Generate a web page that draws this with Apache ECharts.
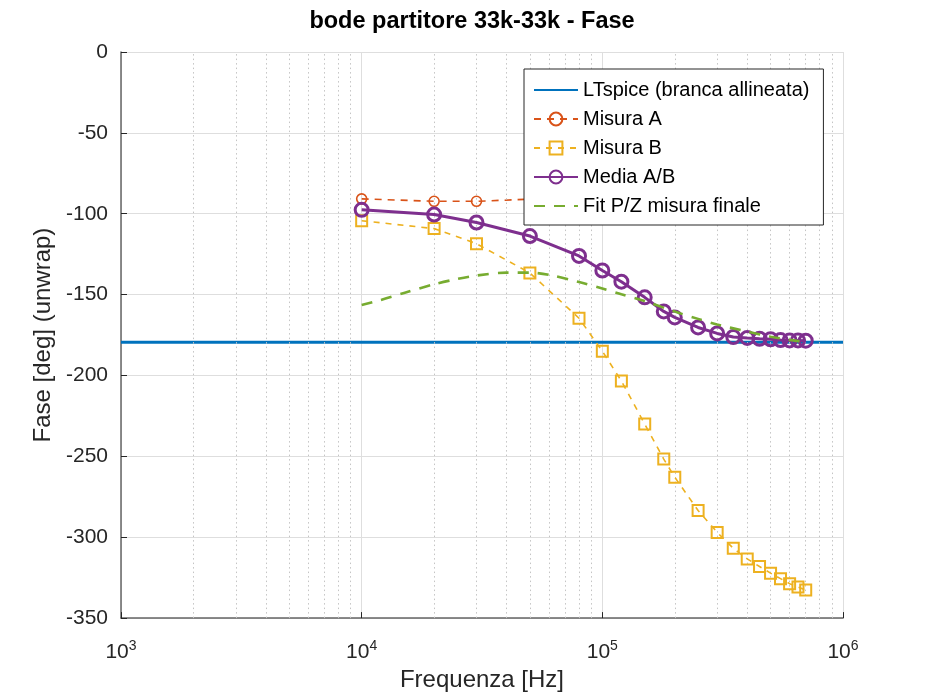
<!DOCTYPE html>
<html>
<head>
<meta charset="utf-8">
<title>bode partitore 33k-33k - Fase</title>
<script src="https://cdn.jsdelivr.net/npm/echarts@6/dist/echarts.min.js"></script>
<style>
  html, body { margin: 0; padding: 0; background: #fff; overflow: hidden; }
  #chart { width: 930px; height: 697px; }
</style>
</head>
<body>
<div id="chart"></div>
<script>
// frequenze di misura [Hz]
const freq = [1e4, 2e4, 3e4, 5e4, 8e4, 1e5, 1.2e5, 1.5e5, 1.8e5, 2e5,
  2.5e5, 3e5, 3.5e5, 4e5, 4.5e5, 5e5, 5.5e5, 6e5, 6.5e5, 7e5];

// fase [deg]
const misuraA = [-90.8, -92.3, -92.3, -91.0, -87.6, -85.2, -80.6, -73.4, -69.1, -65.3,
  -57.1, -51.0, -45.6, -40.2, -36.5, -33.0, -30.6, -27.9, -25.8, -24.4];
const misuraB = [-104.3, -109.2, -118.5, -136.6, -164.6, -185.0, -203.4, -230.0, -251.7, -262.9,
  -283.5, -297.0, -306.8, -313.4, -318.1, -322.2, -325.6, -328.7, -330.8, -332.6];
const mediaAB = [-97.6, -100.5, -105.4, -113.8, -126.1, -135.1, -142.0, -151.7, -160.4, -164.1,
  -170.3, -174.0, -176.2, -176.8, -177.3, -177.6, -178.1, -178.3, -178.3, -178.5];

// LTspice
const ltFreq = [1e3, 1e6];
const ltPhase = [-179.5, -179.5];

// fit poli/zeri
const fitFreq = [1e4, 1.2e4, 1.5e4, 2e4, 2.5e4, 3e4, 4e4, 5e4, 6e4, 8e4,
  1e5, 1.2e5, 1.5e5, 2e5, 2.5e5, 3e5, 4e5, 5e5, 6e5, 7e5];
const fitPhase = [-156.4, -153.3, -149.0, -143.6, -140.3, -138.2, -136.4, -136.4, -137.8, -142.2,
  -146.2, -149.8, -154.0, -160.5, -165.0, -168.5, -172.8, -176.0, -178.0, -179.3];

// griglia minore (log)
const minorTicks = [];
[1e3, 1e4, 1e5].forEach((d) => {
  [2, 3, 4, 5, 6, 7, 8, 9].forEach((m) => minorTicks.push(m * d));
});

const FONT = '"Liberation Sans", Arial, Helvetica, sans-serif';
const TXT = '#262626';

const pairs = (xs, ys) => xs.map((x, i) => [x, ys[i]]);
const noMarker = { color: 'rgba(0,0,0,0)', borderWidth: 0 };

const chart = echarts.init(document.getElementById('chart'));

chart.setOption({
  animation: false,
  backgroundColor: '#fff',
  title: {
    text: 'bode partitore 33k-33k - Fase',
    left: 467,
    textAlign: 'center',
    top: 5,
    textStyle: { fontFamily: FONT, fontSize: 23.5, fontWeight: 'bold', color: '#000' },
  },
  grid: { left: 121, right: 87, top: 52, bottom: 76 },
  legend: {
    orient: 'vertical',
    left: 524,
    top: 69,
    z: 20,
    padding: [11, 14, 9, 9],
    itemWidth: 44,
    itemHeight: 16,
    itemGap: 9,
    backgroundColor: '#fff',
    borderColor: '#262626',
    borderWidth: 1,
    textStyle: { fontFamily: FONT, fontSize: 20, color: '#000', lineHeight: 16 },
    data: [
      { name: 'LTspice (branca allineata)', itemStyle: noMarker },
      'Misura A',
      'Misura B',
      'Media A/B',
      { name: 'Fit P/Z misura finale', itemStyle: noMarker },
    ],
  },
  xAxis: {
    type: 'log',
    logBase: 10,
    min: 1e3,
    max: 1e6,
    name: 'Frequenza [Hz]',
    nameLocation: 'middle',
    nameGap: 46,
    nameTextStyle: { fontFamily: FONT, fontSize: 24, color: TXT },
    axisLine: { onZero: false, lineStyle: { color: '#666', width: 1.5 } },
    axisTick: { inside: true, length: 6, lineStyle: { color: '#262626' } },
    splitLine: { show: true, lineStyle: { color: '#dedede', width: 1 } },
    axisLabel: {
      margin: 21,
      formatter: (v) => '{b|10}{s|' + Math.round(Math.log10(v)) + '}',
      rich: {
        b: { fontFamily: FONT, fontSize: 21, color: TXT },
        s: { fontFamily: FONT, fontSize: 14, color: TXT, padding: [0, 0, 13, 0] },
      },
    },
  },
  yAxis: {
    type: 'value',
    min: -350,
    max: 0,
    interval: 50,
    name: 'Fase [deg] (unwrap)',
    nameLocation: 'middle',
    nameGap: 66,
    nameTextStyle: { fontFamily: FONT, fontSize: 24, color: TXT },
    axisLine: { show: true, onZero: false, lineStyle: { color: '#666', width: 1.5 } },
    axisTick: { show: true, inside: true, length: 6, lineStyle: { color: '#262626' } },
    splitLine: { show: true, lineStyle: { color: '#dedede', width: 1 } },
    axisLabel: { fontFamily: FONT, fontSize: 21, color: TXT, margin: 13 },
  },
  series: [
    {
      // solo griglia minore
      type: 'line',
      data: [],
      z: 1,
      silent: true,
      markLine: {
        silent: true,
        symbol: 'none',
        label: { show: false },
        lineStyle: { type: [1.5, 3], color: '#c4c4c4', width: 1 },
        data: minorTicks.map((v) => ({ xAxis: v })),
      },
    },
    {
      name: 'LTspice (branca allineata)',
      type: 'line',
      data: pairs(ltFreq, ltPhase),
      showSymbol: false,
      symbol: 'none',
      z: 3,
      lineStyle: { color: '#0072BD', width: 3 },
      itemStyle: { color: '#0072BD' },
    },
    {
      name: 'Misura A',
      type: 'line',
      data: pairs(freq, misuraA),
      symbol: 'circle',
      symbolSize: 10,
      z: 4,
      lineStyle: { color: '#D95319', width: 1.6, type: [7, 6] },
      itemStyle: { color: 'rgba(0,0,0,0)', borderColor: '#D95319', borderWidth: 1.6 },
    },
    {
      name: 'Misura B',
      type: 'line',
      data: pairs(freq, misuraB),
      symbol: 'rect',
      symbolSize: 11,
      z: 5,
      lineStyle: { color: '#EDB120', width: 1.6, type: [6, 6] },
      itemStyle: { color: 'rgba(0,0,0,0)', borderColor: '#EDB120', borderWidth: 2 },
    },
    {
      name: 'Media A/B',
      type: 'line',
      data: pairs(freq, mediaAB),
      symbol: 'circle',
      symbolSize: 13,
      z: 6,
      lineStyle: { color: '#7E2F8E', width: 3 },
      itemStyle: { color: 'rgba(0,0,0,0)', borderColor: '#7E2F8E', borderWidth: 3 },
    },
    {
      name: 'Fit P/Z misura finale',
      type: 'line',
      data: pairs(fitFreq, fitPhase),
      symbol: 'none',
      smooth: 0.3,
      z: 7,
      lineStyle: { color: '#77AC30', width: 2.6, type: [11, 9] },
      itemStyle: { color: '#77AC30' },
    },
  ],
});
</script>
</body>
</html>
